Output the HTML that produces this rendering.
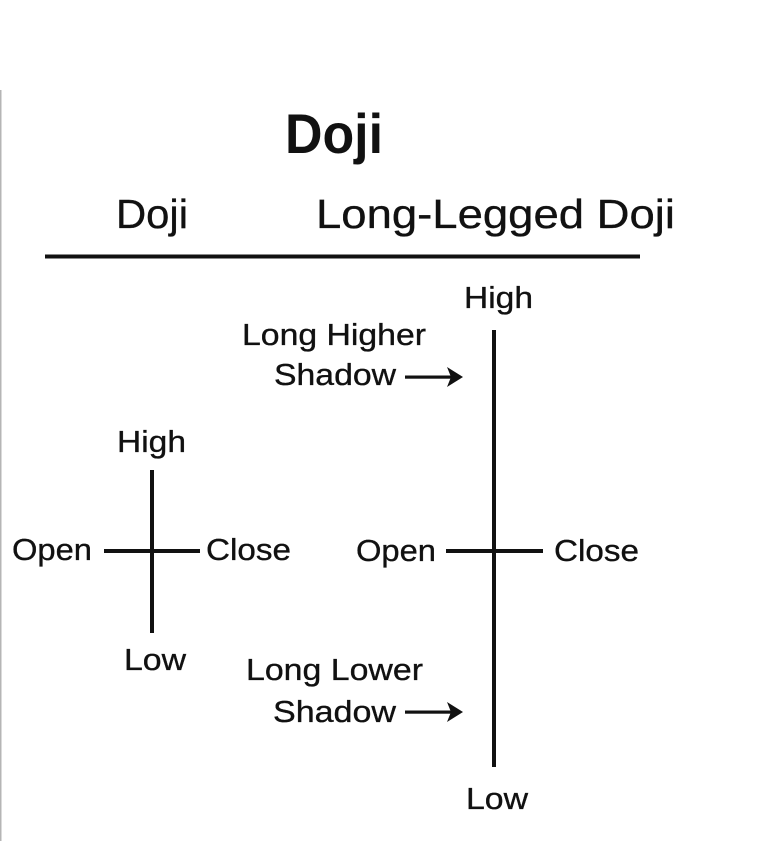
<!DOCTYPE html>
<html>
<head>
<meta charset="utf-8">
<style>
  html, body { margin: 0; padding: 0; background: #fff; }
  body { width: 757px; height: 841px; overflow: hidden; position: relative; }
  svg { position: absolute; left: 0; top: 0; }
  text { font-family: "Liberation Sans", Arial, sans-serif; fill: #111; }
  .lbl { stroke: #111; stroke-width: 0.35; }
</style>
</head>
<body>
<svg width="757" height="841" viewBox="0 0 757 841" xmlns="http://www.w3.org/2000/svg">
  <!-- left gray border line -->
  <rect x="0" y="90" width="1.5" height="751" fill="#b5b5b5"/>

  <!-- Title -->
  <text x="285" y="153" font-size="56" font-weight="bold" textLength="98" lengthAdjust="spacingAndGlyphs">Doji</text>

  <!-- Headers -->
  <text class="lbl" x="116" y="228" font-size="41" textLength="72" lengthAdjust="spacingAndGlyphs">Doji</text>
  <text class="lbl" x="316" y="228" font-size="41" textLength="359" lengthAdjust="spacingAndGlyphs">Long-Legged Doji</text>
  <rect x="45" y="254.5" width="595" height="4" fill="#111"/>

  <!-- Left Doji -->
  <text class="lbl" x="117" y="452" font-size="31" textLength="69" lengthAdjust="spacingAndGlyphs">High</text>
  <rect x="150" y="470" width="4" height="163" fill="#111"/>
  <rect x="104" y="549" width="96" height="4" fill="#111"/>
  <text class="lbl" x="12" y="560" font-size="31" textLength="80" lengthAdjust="spacingAndGlyphs">Open</text>
  <text class="lbl" x="206" y="560" font-size="31" textLength="85" lengthAdjust="spacingAndGlyphs">Close</text>
  <text class="lbl" x="124" y="670" font-size="31" textLength="62" lengthAdjust="spacingAndGlyphs">Low</text>

  <!-- Long-Legged Doji -->
  <text class="lbl" x="464" y="308" font-size="31" textLength="69" lengthAdjust="spacingAndGlyphs">High</text>
  <text class="lbl" x="242" y="345" font-size="31" textLength="184" lengthAdjust="spacingAndGlyphs">Long Higher</text>
  <text class="lbl" x="274" y="385" font-size="31" textLength="122" lengthAdjust="spacingAndGlyphs">Shadow</text>
  <rect x="405" y="375.5" width="48" height="3.2" fill="#111"/>
  <polygon points="463,377 447,367 451,377 447,387" fill="#111"/>

  <rect x="492" y="330" width="4" height="437" fill="#111"/>
  <rect x="446" y="549" width="97" height="4" fill="#111"/>
  <text class="lbl" x="356" y="561" font-size="31" textLength="80" lengthAdjust="spacingAndGlyphs">Open</text>
  <text class="lbl" x="554" y="561" font-size="31" textLength="85" lengthAdjust="spacingAndGlyphs">Close</text>

  <text class="lbl" x="246" y="680" font-size="31" textLength="177" lengthAdjust="spacingAndGlyphs">Long Lower</text>
  <text class="lbl" x="273" y="722" font-size="31" textLength="123" lengthAdjust="spacingAndGlyphs">Shadow</text>
  <rect x="405" y="710.5" width="48" height="3.2" fill="#111"/>
  <polygon points="463,712 447,702 451,712 447,722" fill="#111"/>

  <text class="lbl" x="466" y="809" font-size="31" textLength="62" lengthAdjust="spacingAndGlyphs">Low</text>
</svg>
</body>
</html>
